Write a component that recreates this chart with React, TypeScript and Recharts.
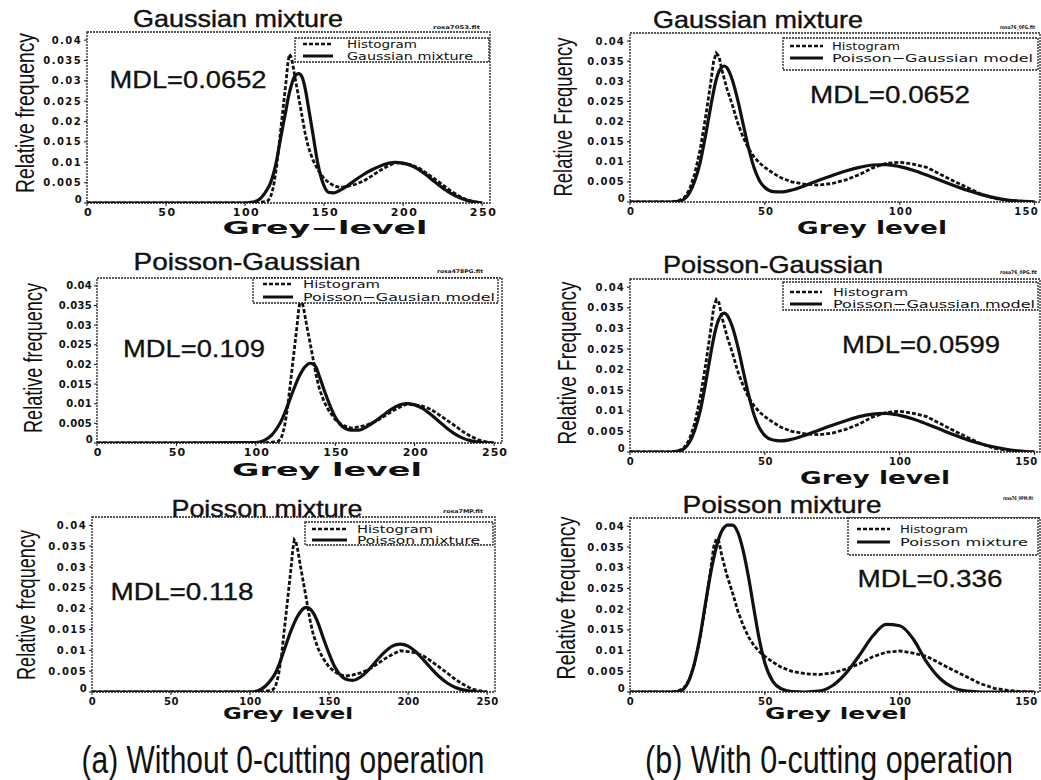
import React from 'react';
import { LineChart, Line, XAxis, YAxis, ReferenceArea } from 'recharts';

// ---------- data ----------
const greyLeft = [0, 50, 100, 105, 110, 114, 116, 118, 120, 122, 124, 126, 127, 128, 129, 130, 132, 134, 136, 138, 140, 143, 146, 150, 153, 156, 160, 165, 170, 175, 180, 185, 190, 195, 200, 205, 210, 215, 220, 225, 230, 235, 240, 245, 250];
const histLeft = [0, 0, 0, 0, 0.0002, 0.0004, 0.0012, 0.004, 0.009, 0.016, 0.023, 0.03, 0.034, 0.0365, 0.036, 0.0345, 0.03, 0.0258, 0.0215, 0.0172, 0.0138, 0.0105, 0.0082, 0.006, 0.005, 0.0043, 0.0038, 0.0041, 0.0046, 0.0054, 0.0066, 0.0079, 0.009, 0.0099, 0.0097, 0.0094, 0.0086, 0.0073, 0.0059, 0.0045, 0.003, 0.0018, 0.0008, 0.0003, 0];
const gaussLeft = [0, 0, 0, 0.0002, 0.0012, 0.0033, 0.0048, 0.0072, 0.0105, 0.0148, 0.019, 0.023, 0.0252, 0.027, 0.0285, 0.0298, 0.0314, 0.0318, 0.031, 0.0282, 0.0238, 0.0168, 0.0098, 0.0042, 0.0026, 0.0025, 0.0031, 0.0043, 0.0057, 0.007, 0.0081, 0.009, 0.0097, 0.01, 0.0098, 0.0092, 0.0082, 0.0068, 0.0052, 0.0037, 0.0024, 0.0014, 0.0007, 0.0003, 0];
const poisGaussLeft = [0, 0, 0.0001, 0.0006, 0.002, 0.0042, 0.0056, 0.0074, 0.0095, 0.0117, 0.0138, 0.0158, 0.0167, 0.0175, 0.0182, 0.0189, 0.0198, 0.0203, 0.0201, 0.0192, 0.017, 0.0135, 0.0102, 0.0066, 0.0048, 0.0038, 0.0033, 0.0033, 0.0042, 0.0055, 0.007, 0.0085, 0.0096, 0.01, 0.0097, 0.0088, 0.0073, 0.0056, 0.0039, 0.0024, 0.0013, 0.0006, 0.0002, 0.0001, 0];
const poisMixLeft = [0, 0, 0, 0.0003, 0.0015, 0.0033, 0.0045, 0.0062, 0.0083, 0.0105, 0.0127, 0.0148, 0.0157, 0.0166, 0.0174, 0.0181, 0.0193, 0.0201, 0.0203, 0.0199, 0.019, 0.0166, 0.0133, 0.0092, 0.0065, 0.0046, 0.0032, 0.0028, 0.0036, 0.0053, 0.0075, 0.0095, 0.011, 0.0115, 0.011, 0.0096, 0.0076, 0.0055, 0.0036, 0.0021, 0.0011, 0.0005, 0.0002, 0, 0];

const greyRight = [0, 10, 15, 18, 20, 22, 24, 26, 28, 30, 31, 32, 33, 34, 35, 36, 38, 40, 42, 44, 46, 48, 50, 53, 56, 60, 65, 70, 75, 80, 85, 90, 95, 100, 105, 110, 115, 120, 125, 130, 135, 140, 145, 150];
const histRight = [0, 0, 0, 0.0003, 0.001, 0.003, 0.007, 0.013, 0.021, 0.03, 0.035, 0.037, 0.0362, 0.033, 0.0305, 0.028, 0.024, 0.0195, 0.016, 0.0132, 0.0112, 0.0097, 0.0086, 0.0072, 0.006, 0.005, 0.0044, 0.0042, 0.0046, 0.0055, 0.0068, 0.0085, 0.0096, 0.0099, 0.0094, 0.0086, 0.0069, 0.0052, 0.0036, 0.002, 0.0009, 0.0004, 0.0001, 0];
const gaussRight = [0, 0, 0, 0.0002, 0.0007, 0.0022, 0.0052, 0.0098, 0.0165, 0.024, 0.0275, 0.0305, 0.0325, 0.0335, 0.0338, 0.0333, 0.0302, 0.0252, 0.0192, 0.0133, 0.0085, 0.0053, 0.0036, 0.0026, 0.0025, 0.003, 0.0041, 0.0054, 0.0066, 0.0077, 0.0086, 0.0092, 0.0093, 0.0088, 0.0079, 0.0067, 0.0054, 0.0041, 0.0029, 0.0019, 0.0011, 0.0005, 0.0002, 0];
const poisGaussRight = [0, 0, 0, 0.0002, 0.0008, 0.0023, 0.0053, 0.0099, 0.0166, 0.0241, 0.0276, 0.0304, 0.0323, 0.0334, 0.0337, 0.0332, 0.0303, 0.0255, 0.0196, 0.0138, 0.009, 0.0058, 0.004, 0.0029, 0.0027, 0.0031, 0.0041, 0.0053, 0.0065, 0.0076, 0.0086, 0.0092, 0.0094, 0.0089, 0.008, 0.0068, 0.0055, 0.0042, 0.003, 0.002, 0.0012, 0.0006, 0.0002, 0];
const poisMixRight = [0, 0, 0, 0.0001, 0.0008, 0.003, 0.0072, 0.0135, 0.0215, 0.029, 0.0322, 0.035, 0.0372, 0.0388, 0.0398, 0.0403, 0.0403, 0.0385, 0.034, 0.0275, 0.0198, 0.0125, 0.007, 0.0025, 0.0008, 0.0001, 0, 0.0002, 0.0015, 0.0045, 0.0088, 0.0135, 0.0163, 0.016, 0.0128, 0.0072, 0.0032, 0.001, 0.0002, 0, 0, 0, 0, 0];

const yTicks = [0, 0.005, 0.01, 0.015, 0.02, 0.025, 0.03, 0.035, 0.04];
const yTickLabels = ['0', '0.005', '0.01', '0.015', '0.02', '0.025', '0.03', '0.035', '0.04'];
const xTicksLeft = [0, 50, 100, 150, 200, 250];
const xTicksRight = [0, 50, 100, 150];

const titles = ['Gaussian mixture', 'Poisson-Gaussian', 'Poisson mixture', 'Gaussian mixture', 'Poisson-Gaussian', 'Poisson mixture'];
const mdlTexts = ['MDL=0.0652', 'MDL=0.109', 'MDL=0.118', 'MDL=0.0652', 'MDL=0.0599', 'MDL=0.336'];
const modelNames = ['Gaussian mixture', 'Poisson\u2212Gausian model', 'Poisson mixture', 'Poisson\u2212Gaussian model', 'Poisson\u2212Gaussian model', 'Poisson mixture'];
const yLabels = ['Relative frequency', 'Relative frequency', 'Relative frequency', 'Relative Frequency', 'Relative Frequency', 'Relative frequency'];
const xLabels = ['Grey\u2212level', 'Grey level', 'Grey level', 'Grey level', 'Grey level', 'Grey level'];
const fileNames = ['rosa7053.fit', 'rosa478PG.fit', 'rosa7MP.fit', 'rosa76_0FG.fit', 'rosa76_0PG.fit', 'rosa76_0PM.fit'];
const captions = ['(a) Without 0-cutting operation', '(b) With 0-cutting operation'];

const build = (grey: number[], hist: number[], model: number[]) =>
  grey.map((g, i) => ({ grey: g, hist: hist[i], model: model[i] }));

// ---------- layout / style ----------
const Y_MAX = 0.042;
const panels = [
  { px0: 87, py0: 32, px1: 490, py1: 203, xMax: 255, xTicks: xTicksLeft, data: build(greyLeft, histLeft, gaussLeft), xfs: 11, xls: 1.5, yls: 1.4,
    title: { cx: 238, by: 27, w: 210 }, mdl: { cx: 188, by: 88, w: 157 }, ylab: { cx: 25, cy: 113, w: 160 }, xlab: { cx: 325, by: 234, w: 205, fs: 17 },
    file: { x: 433, y: 29, w: 47 }, leg: { x0: 295, y0: 38, x1: 489, y1: 62, s0: 303, s1: 333, tx: 347, r1: 44, r2: 56, w1: 70, w2: 126 } },
  { px0: 97, py0: 278, px1: 502, py1: 443, xMax: 255, xTicks: xTicksLeft, data: build(greyLeft, histLeft, poisGaussLeft), xfs: 11, xls: 1, yls: 0.3,
    title: { cx: 247, by: 270, w: 227 }, mdl: { cx: 194, by: 357, w: 142 }, ylab: { cx: 33, cy: 358, w: 150 }, xlab: { cx: 327, by: 476, w: 190, fs: 17 },
    file: { x: 437, y: 273, w: 46 }, leg: { x0: 253, y0: 278, x1: 498, y1: 303, s0: 263, s1: 293, tx: 303, r1: 284, r2: 297, w1: 77, w2: 192 } },
  { px0: 92, py0: 517, px1: 495, py1: 692, xMax: 255, xTicks: xTicksLeft, data: build(greyLeft, histLeft, poisMixLeft), xfs: 10, xls: 0.5, yls: 1.4,
    title: { cx: 267, by: 517, w: 191 }, mdl: { cx: 182, by: 600, w: 143 }, ylab: { cx: 26, cy: 605, w: 150 }, xlab: { cx: 288, by: 719, w: 130, fs: 15 },
    file: { x: 443, y: 513, w: 40 }, leg: { x0: 305, y0: 522, x1: 493, y1: 545, s0: 312, s1: 347, tx: 357, r1: 529, r2: 540, w1: 76, w2: 123 } },
  { px0: 630, py0: 33, px1: 1040, py1: 202, xMax: 152, xTicks: xTicksRight, data: build(greyRight, histRight, gaussRight), xfs: 10, xls: 1.2, yls: 1.2,
    title: { cx: 758, by: 28, w: 210 }, mdl: { cx: 890, by: 103, w: 160 }, ylab: { cx: 563, cy: 117, w: 159 }, xlab: { cx: 872, by: 234, w: 150, fs: 17 },
    file: { x: 1000, y: 29, w: 35 }, leg: { x0: 783, y0: 38, x1: 1038, y1: 70, s0: 790, s1: 823, tx: 832, r1: 46, r2: 58, w1: 68, w2: 201 } },
  { px0: 630, py0: 279, px1: 1040, py1: 452, xMax: 152, xTicks: xTicksRight, data: build(greyRight, histRight, poisGaussRight), xfs: 10, xls: 0.6, yls: 1.2,
    title: { cx: 773, by: 273, w: 220 }, mdl: { cx: 921, by: 353, w: 158 }, ylab: { cx: 567, cy: 363, w: 163 }, xlab: { cx: 875, by: 484, w: 150, fs: 17 },
    file: { x: 1000, y: 274, w: 37 }, leg: { x0: 783, y0: 282, x1: 1038, y1: 310, s0: 790, s1: 822, tx: 833, r1: 292, r2: 304, w1: 75, w2: 202 } },
  { px0: 630, py0: 518, px1: 1040, py1: 692, xMax: 152, xTicks: xTicksRight, data: build(greyRight, histRight, poisMixRight), xfs: 10, xls: 0.6, yls: 1.2,
    title: { cx: 782, by: 513, w: 199 }, mdl: { cx: 930, by: 587, w: 145 }, ylab: { cx: 566, cy: 598, w: 163 }, xlab: { cx: 836, by: 719, w: 142, fs: 15 },
    file: { x: 1003, y: 500, w: 30 }, leg: { x0: 848, y0: 518, x1: 1038, y1: 555, s0: 857, s1: 890, tx: 900, r1: 529, r2: 542, w1: 68, w2: 128 } },
];

const INK = '#111';
const RM = 20; // right margin inside each chart svg

function makeXTick(fs: number, ls: number, xMax: number) {
  return (props: any) => {
    const { x, y, payload } = props;
    const isEdge = payload.value >= 150 && xMax < 200;
    return (
      <text x={isEdge ? x - 8 : x + ls} y={y + fs * 0.75} textAnchor="middle" fontFamily="DejaVu Sans" fontWeight="bold"
        fontSize={fs} letterSpacing={ls} fill={INK}>{String(payload.value)}</text>
    );
  };
}

function makeYTick(ls: number) {
  return (props: any) => {
    const { x, y, payload } = props;
    const idx = yTicks.findIndex((t) => Math.abs(t - payload.value) < 1e-9);
    const label = idx >= 0 ? yTickLabels[idx] : String(payload.value);
    const isZero = idx === 0;
    return (
      <text x={isZero ? x + 1 : x} y={isZero ? y - 4 : y} textAnchor="end" dominantBaseline="central"
        fontFamily="DejaVu Sans" fontWeight="bold" fontSize={10} letterSpacing={ls} fill={INK}>{label}</text>
    );
  };
}

function Panel({ p }: { p: any }) {
  const L = p.px0 - 55;
  const T = p.py0 - 5;
  const W = p.px1 - p.px0 + 55 + RM;
  const H = p.py1 - p.py0 + 30;
  return (
    <div style={{ position: 'absolute', left: L, top: T }}>
      <LineChart width={W} height={H} data={p.data} margin={{ top: 5, right: RM, left: 5, bottom: 5 }}>
        <XAxis dataKey="grey" type="number" domain={[0, p.xMax]} ticks={p.xTicks} allowDataOverflow interval={0}
          height={20} tickSize={3} axisLine={false} tickLine={{ stroke: INK }} tick={makeXTick(p.xfs, p.xls, p.xMax)} />
        <XAxis xAxisId="top" orientation="top" dataKey="grey" type="number" domain={[0, p.xMax]} ticks={p.xTicks} interval={0}
          height={0} mirror tick={false} tickSize={3} axisLine={false} tickLine={{ stroke: INK }} />
        <YAxis type="number" domain={[0, Y_MAX]} ticks={yTicks} allowDataOverflow width={50} tickSize={3} interval={0}
          axisLine={false} tickLine={{ stroke: INK }} tick={makeYTick(p.yls)} />
        <YAxis yAxisId="right" orientation="right" type="number" domain={[0, Y_MAX]} ticks={yTicks} interval={0}
          width={0} mirror tick={false} tickSize={3} axisLine={false} tickLine={{ stroke: INK }} />
        <ReferenceArea x1={0} x2={p.xMax} y1={0} y2={Y_MAX} fill="none" stroke="#222" strokeWidth={1.3}
          strokeDasharray="2 1" ifOverflow="visible" />
        <Line dataKey="hist" type="linear" stroke={INK} strokeWidth={2.8} strokeDasharray="4 2" dot={false}
          isAnimationActive={false} />
        <Line dataKey="model" type="monotone" stroke={INK} strokeWidth={3.2} dot={false} isAnimationActive={false} />
      </LineChart>
    </div>
  );
}

function Overlay() {
  const sans = 'Liberation Sans, Arial, sans-serif';
  return (
    <svg width={1041} height={780} style={{ position: 'absolute', left: 0, top: 0, pointerEvents: 'none' }}>
      {panels.map((p, i) => (
        <g key={i}>
          <text x={p.title.cx} y={p.title.by} textAnchor="middle" fontFamily={sans} fontSize={24} fill={INK}
            stroke={INK} strokeWidth={0.4} textLength={p.title.w} lengthAdjust="spacingAndGlyphs">{titles[i]}</text>
          <text x={p.mdl.cx} y={p.mdl.by} textAnchor="middle" fontFamily={sans} fontSize={24} fill={INK}
            stroke={INK} strokeWidth={0.3} textLength={p.mdl.w} lengthAdjust="spacingAndGlyphs">{mdlTexts[i]}</text>
          <text transform={`translate(${p.ylab.cx},${p.ylab.cy}) rotate(-90)`} textAnchor="middle"
            dominantBaseline="central" fontFamily={sans} fontSize={26} fill={INK}
            textLength={p.ylab.w} lengthAdjust="spacingAndGlyphs">{yLabels[i]}</text>
          <text x={p.xlab.cx} y={p.xlab.by} textAnchor="middle" fontFamily="DejaVu Sans" fontWeight="bold"
            fontSize={p.xlab.fs} fill={INK} textLength={p.xlab.w} lengthAdjust="spacingAndGlyphs">{xLabels[i]}</text>
          <text x={p.file.x} y={p.file.y} fontFamily="DejaVu Sans" fontWeight="bold" fontSize={5} fill={INK}
            textLength={p.file.w} lengthAdjust="spacingAndGlyphs">{fileNames[i]}</text>
          <rect x={p.leg.x0} y={p.leg.y0} width={p.leg.x1 - p.leg.x0} height={p.leg.y1 - p.leg.y0} fill="#fff"
            stroke="#222" strokeWidth={1.3} strokeDasharray="2 1" />
          <line x1={p.leg.s0} x2={p.leg.s1} y1={p.leg.r1} y2={p.leg.r1} stroke={INK} strokeWidth={2.4} strokeDasharray="4 2" />
          <line x1={p.leg.s0} x2={p.leg.s1} y1={p.leg.r2} y2={p.leg.r2} stroke={INK} strokeWidth={3} />
          <text x={p.leg.tx} y={p.leg.r1} dominantBaseline="central" fontFamily="DejaVu Sans" fontSize={11} fill={INK}
            textLength={p.leg.w1} lengthAdjust="spacingAndGlyphs">Histogram</text>
          <text x={p.leg.tx} y={p.leg.r2} dominantBaseline="central" fontFamily="DejaVu Sans" fontSize={11} fill={INK}
            textLength={p.leg.w2} lengthAdjust="spacingAndGlyphs">{modelNames[i]}</text>
        </g>
      ))}
      <text x={283} y={773} textAnchor="middle" fontFamily={sans} fontSize={38} fill={INK} textLength={403}
        lengthAdjust="spacingAndGlyphs">{captions[0]}</text>
      <text x={829} y={773} textAnchor="middle" fontFamily={sans} fontSize={38} fill={INK} textLength={368}
        lengthAdjust="spacingAndGlyphs">{captions[1]}</text>
    </svg>
  );
}

export default function App() {
  return (
    <div style={{ position: 'absolute', left: 0, top: 0, width: 1041, height: 780, overflow: 'hidden', background: '#fff' }}>
      {panels.map((p, i) => (
        <Panel key={i} p={p} />
      ))}
      <Overlay />
    </div>
  );
}
